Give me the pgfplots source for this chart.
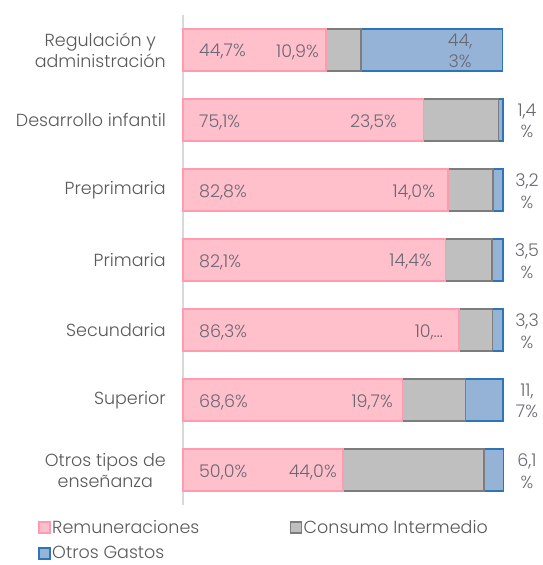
\documentclass[border=0pt]{standalone}
\usepackage{fontspec}
\setmainfont{Poppins}[UprightFont=* Light]
\usepackage{pgfplots}
\pgfplotsset{compat=1.18}
\definecolor{pinkF}{RGB}{255,192,204}
\definecolor{pinkD}{RGB}{255,155,175}
\definecolor{greyF}{RGB}{191,191,191}
\definecolor{greyD}{RGB}{125,125,125}
\definecolor{blueF}{RGB}{149,179,215}
\definecolor{blueD}{RGB}{46,117,182}
\definecolor{axisC}{RGB}{217,217,217}
\definecolor{labC}{RGB}{89,89,89}
\definecolor{dataC}{RGB}{105,105,115}
\newcommand{\lf}{\fontsize{17.5}{21}\selectfont}
\begin{document}
\begin{tikzpicture}
\pgfplotsset{
  base/.style={
    scale only axis, width=320pt, height=490pt,
    xmin=0, xmax=100, ymin=-0.5, ymax=6.5,
    clip=false,
  },
  lab/.style={draw=none, mark=none, nodes near coords, point meta=explicit symbolic,
    every node near coord/.append style={inner sep=0pt, font=\lf, text=dataC, #1}},
}
\begin{axis}[base,
  xbar stacked, bar width=42pt,
  axis x line=none, axis y line=left,
  axis line style={-, draw=axisC, line width=1.5pt},
  ytick={0,...,6}, ytick style={draw=none}, major tick length=0pt,
  yticklabels={{Otros tipos de\\enseñanza}, Superior, Secundaria, Primaria, Preprimaria, Desarrollo infantil, {Regulación y\\administración}},
  yticklabel style={align=center, font=\lf, text=labC, inner sep=0pt, xshift=-17pt},
  legend columns=2,
  legend cell align=left,
  legend style={at={(-0.453,-0.027)}, anchor=north west, draw=none, fill=none, inner sep=0pt,
    font=\lf, text=labC, row sep=9pt,
    nodes={inner sep=1.5pt}},
  legend image code/.code={\draw[#1, line width=1.5pt] (0pt,-5.5pt) rectangle (11pt,5.5pt);},
]
\addplot[fill=pinkF, draw=pinkD, line width=1.5pt] coordinates {(50.0,0) (68.6,1) (86.3,2) (82.1,3) (82.8,4) (75.1,5) (44.7,6)};
\addlegendentry{\makebox[236pt][l]{Remuneraciones}}
\addplot[fill=greyF, draw=greyD, line width=1.5pt] coordinates {(44.0,0) (19.7,1) (10.4,2) (14.4,3) (14.0,4) (23.5,5) (10.9,6)};
\addlegendentry{Consumo Intermedio}
\addplot[fill=blueF, draw=blueD, line width=1.5pt] coordinates {(6.1,0) (11.7,1) (3.3,2) (3.5,3) (3.2,4) (1.4,5) (44.3,6)};
\addlegendentry{Otros Gastos}
\end{axis}
\begin{axis}[base, hide axis]
\addplot[lab={anchor=west, yshift=-2pt}] coordinates {(5,6) [44,7\%] (5,5) [75,1\%] (5,4) [82,8\%] (5,3) [82,1\%] (5,2) [86,3\%] (5,1) [68,6\%] (5,0) [50,0\%]};
\addplot[lab={anchor=east, yshift=-2pt}] coordinates {(42.5,6) [10,9\%] (66.9,5) [23,5\%] (78.8,4) [14,0\%] (77.8,3) [14,4\%] (81.3,2) [10,\ldots] (65.6,1) [19,7\%] (48.1,0) [44,0\%]};
\addplot[lab={anchor=center, align=center, font=\fontsize{17.5}{21.5}\selectfont, yshift=-1pt}] coordinates {(86.6,6) [44,\\3\%] (107.5,5) [1,4\\\%] (107.5,4) [3,2\\\%] (107.5,3) [3,5\\\%] (107.5,2) [3,3\\\%] (107.5,1) [11,\\7\%] (107.5,0) [6,1\\\%]};
\end{axis}
\useasboundingbox (-183pt,-60pt) rectangle (360pt,505pt);
\end{tikzpicture}
\end{document}
